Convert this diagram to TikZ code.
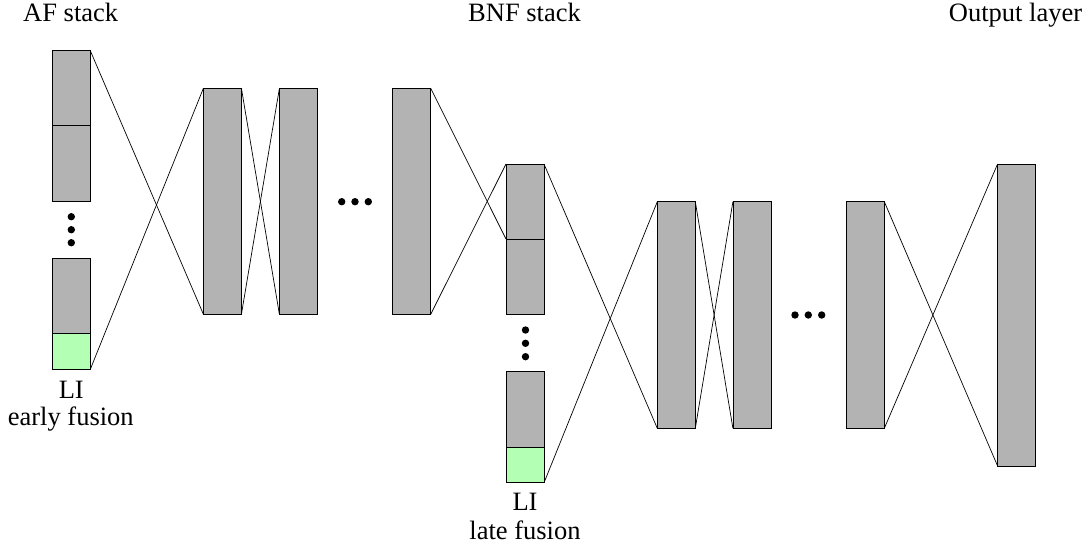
\documentclass[tikz,border=0pt]{standalone}
\usepackage{fontspec}
\setmainfont{Liberation Serif}
\definecolor{boxgray}{RGB}{179,179,179}
\definecolor{ligreen}{RGB}{179,255,179}
\begin{document}
\begin{tikzpicture}[x=1pt,y=-1pt,
  layer/.style={draw=black,fill=boxgray,line width=0.8pt,minimum width=38pt,inner sep=0pt,outer sep=0pt},
  ligbox/.style={layer,fill=ligreen},
  conn/.style={line width=0.7pt},
  lbl/.style={anchor=base,inner sep=0pt,font=\fontsize{26.5}{30}\selectfont},
  dot/.style={circle,fill=black,inner sep=0pt,minimum size=7.4pt}]
\useasboundingbox (0,0) rectangle (1091,549);
% AF stack
\node[layer,minimum height=75pt] (a1) at (71.3,88.2) {};
\node[layer,minimum height=75.6pt] (a2) at (71.3,163.5) {};
\node[layer,minimum height=75pt] (a3) at (71.3,295.8) {};
\node[ligbox,minimum height=36pt] (a4) at (71.3,351.3) {};
\node[dot] (ad1) at (71.3,216.7) {};
\node[dot] (ad2) at (71.3,229.7) {};
\node[dot] (ad3) at (71.3,242.7) {};
% AF hidden layers
\node[layer,minimum height=226pt] (l1) at (222.4,201.3) {};
\node[layer,minimum height=226pt] (l2) at (298.4,201.3) {};
\node[dot] (ld1) at (341.7,201.7) {};
\node[dot] (ld2) at (355,201.7) {};
\node[dot] (ld3) at (368.3,201.7) {};
\node[layer,minimum height=226pt] (l3) at (411.7,201.3) {};
% BNF stack
\node[layer,minimum height=75pt] (b1) at (525,201.5) {};
\node[layer,minimum height=75.7pt] (b2) at (525,276.9) {};
\node[dot] (bd1) at (525.5,330) {};
\node[dot] (bd2) at (525.5,343.3) {};
\node[dot] (bd3) at (525.5,356.7) {};
\node[layer,minimum height=75.3pt] (b3) at (525,409.3) {};
\node[ligbox,minimum height=35.7pt] (b4) at (525,464.9) {};
% BNF hidden layers
\node[layer,minimum height=226.6pt] (m1) at (676.3,315) {};
\node[layer,minimum height=226.6pt] (m2) at (751.9,315) {};
\node[dot] (md1) at (795,315) {};
\node[dot] (md2) at (808.3,315) {};
\node[dot] (md3) at (821.7,315) {};
\node[layer,minimum height=226.6pt] (m3) at (865.3,315) {};
% Output
\node[layer,minimum height=302pt] (o) at (1016.6,315) {};
% connectors
\draw[conn] (a1.north east) -- (l1.south west);
\draw[conn] (a4.south east) -- (l1.north west);
\draw[conn] (l1.north east) -- (l2.south west);
\draw[conn] (l1.south east) -- (l2.north west);
\draw[conn] (l3.north east) -- (b1.south west);
\draw[conn] (l3.south east) -- (b1.north west);
\draw[conn] (b1.north east) -- (m1.south west);
\draw[conn] (b4.south east) -- (m1.north west);
\draw[conn] (m1.north east) -- (m2.south west);
\draw[conn] (m1.south east) -- (m2.north west);
\draw[conn] (m3.north east) -- (o.south west);
\draw[conn] (m3.south east) -- (o.north west);
% labels
\node[lbl] (t1) at (70.7,21.7) {AF stack};
\node[lbl] (t2) at (524.5,21.7) {BNF stack};
\node[lbl] (t3) at (1015.5,21.7) {Output layer};
\node[lbl] (t4) at (71.3,398.3) {LI};
\node[lbl] (t5) at (70.8,425.5) {early fusion};
\node[lbl] (t6) at (525,510.7) {LI};
\node[lbl] (t7) at (525,539.5) {late fusion};
\end{tikzpicture}
\end{document}
